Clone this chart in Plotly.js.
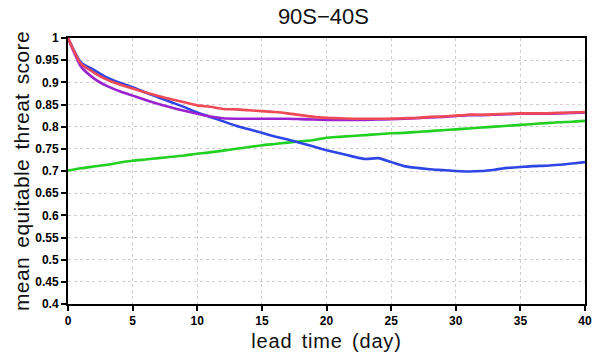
<!DOCTYPE html>
<html>
<head>
<meta charset="utf-8">
<script src="https://cdn.plot.ly/plotly-3.0.1.min.js"></script>
<style>
html,body{margin:0;padding:0;background:#fff;}
#chart{width:599px;height:358px;}
text.xtitle{letter-spacing:0.8px; word-spacing:3px;}
text.ytitle{letter-spacing:0.4px; word-spacing:3px;}
</style>
</head>
<body>
<div id="chart"></div>
<script>
const leadDays = [0,1,2,3,4,5,6,7,8,9,10,11,12,13,14,15,16,17,18,19,20,21,22,23,24,25,26,27,28,29,30,31,32,33,34,35,36,37,38,39,40];

const greenScore = [0.701,0.706,0.710,0.714,0.719,0.723,0.726,0.729,0.732,0.735,0.739,0.742,0.746,0.750,0.754,0.758,0.761,0.764,0.767,0.770,0.775,0.777,0.779,0.781,0.783,0.785,0.786,0.788,0.790,0.792,0.794,0.796,0.798,0.800,0.802,0.804,0.806,0.808,0.810,0.811,0.813];

const blueScore = [1.0,0.945,0.928,0.911,0.899,0.889,0.877,0.866,0.855,0.844,0.832,0.822,0.812,0.802,0.794,0.786,0.778,0.771,0.763,0.755,0.747,0.740,0.733,0.727,0.729,0.720,0.711,0.707,0.704,0.702,0.700,0.699,0.700,0.703,0.707,0.709,0.711,0.712,0.714,0.717,0.720];

const purpleScore = [1.0,0.936,0.909,0.892,0.880,0.870,0.860,0.851,0.843,0.836,0.829,0.823,0.819,0.818,0.818,0.818,0.818,0.818,0.817,0.816,0.815,0.815,0.815,0.815,0.816,0.817,0.818,0.819,0.821,0.822,0.824,0.826,0.826,0.827,0.828,0.829,0.829,0.829,0.830,0.831,0.832];

const redScore = [1.0,0.942,0.922,0.906,0.895,0.886,0.877,0.869,0.862,0.855,0.848,0.845,0.840,0.839,0.837,0.835,0.833,0.830,0.826,0.822,0.820,0.819,0.818,0.818,0.818,0.818,0.819,0.820,0.822,0.823,0.825,0.827,0.827,0.828,0.829,0.830,0.830,0.830,0.831,0.832,0.833];

const yTickVals = [0.4,0.45,0.5,0.55,0.6,0.65,0.7,0.75,0.8,0.85,0.9,0.95,1];
const yTickText = ['0.4','0.45','0.5','0.55','0.6','0.65','0.7','0.75','0.8','0.85','0.9','0.95','1'];
const xTickVals = [0,5,10,15,20,25,30,35,40];

function mk(y, color){
  return {x: leadDays, y: y, type:'scatter', mode:'lines',
          line:{color: color, width:2.6, shape:'spline', smoothing:0.6},
          hoverinfo:'skip', showlegend:false};
}

const data = [
  mk(greenScore, '#22d022'),
  mk(blueScore, '#2f46e6'),
  mk(purpleScore, '#9b22cf'),
  mk(redScore, '#ee4a55')
];

const fam = 'Liberation Sans, Arial, sans-serif';

const layout = {
  width:599, height:358,
  margin:{l:68, r:14, t:38, b:54, pad:0},
  paper_bgcolor:'#fff', plot_bgcolor:'#fff',
  title:{text:'90S\u221240S', font:{family:fam, size:22, color:'#111'},
         x:0.54, xanchor:'center', y:0.975, yanchor:'top'},
  xaxis:{range:[0,40], tickvals:xTickVals, showline:true, linecolor:'#000', linewidth:2, mirror:true,
         ticks:'outside', ticklen:5, tickwidth:2, tickcolor:'#000',
         showgrid:true, gridcolor:'#cfcfcf', griddash:'dot', gridwidth:1, zeroline:false,
         tickfont:{family:fam, size:12, color:'#000', weight:'bold'},
         title:{text:'lead time (day)', standoff:7, font:{family:fam, size:20, color:'#111'}}},
  yaxis:{range:[0.4,1], tickvals:yTickVals, ticktext:yTickText, showline:true, linecolor:'#000', linewidth:2, mirror:true,
         ticks:'outside', ticklen:5, tickwidth:2, tickcolor:'#000',
         showgrid:true, gridcolor:'#cfcfcf', griddash:'dot', gridwidth:1, zeroline:false,
         tickfont:{family:fam, size:12, color:'#000', weight:'bold'},
         title:{text:'mean equitable threat score', standoff:0, font:{family:fam, size:21, color:'#111'}}}
};

Plotly.newPlot('chart', data, layout, {staticPlot:true, displayModeBar:false});
</script>
</body>
</html>
